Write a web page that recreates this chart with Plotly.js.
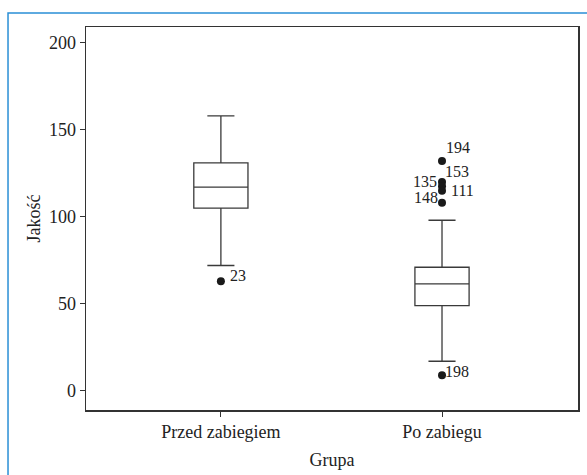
<!DOCTYPE html>
<html>
<head>
<meta charset="utf-8">
<script src="https://cdn.plot.ly/plotly-3.0.1.min.js"></script>
<style>html,body{margin:0;padding:0;background:#fff;}#chart{width:587px;height:475px;}</style>
</head>
<body>
<div id="chart"></div>
<script>
// Data
const groups = ["Przed zabiegiem", "Po zabiegu"];
const lowerFence = [72, 17];
const q1 = [105, 49];
const median = [117, 61.5];
const q3 = [131, 71];
const upperFence = [158, 98];

const outlierGroup = ["Przed zabiegiem", "Po zabiegu", "Po zabiegu", "Po zabiegu", "Po zabiegu", "Po zabiegu", "Po zabiegu"];
const outlierValue = [63, 9, 132, 120, 117.5, 115, 108];
const outlierLabel = ["23", "198", "194", "153", "135", "111", "148"];

// label offsets in pixels (layout only)
const labelDx = [17, 15, 16, 15, -17, 20, -16];
const labelDy = [6, 4, 14, 10, 5, 0, 5];

const fontFam = "Liberation Serif, Times New Roman, serif";

const traces = [
  {
    type: "box",
    x: groups,
    q1: q1,
    median: median,
    q3: q3,
    lowerfence: lowerFence,
    upperfence: upperFence,
    boxpoints: false,
    width: 0.245,
    whiskerwidth: 0.5,
    fillcolor: "#ffffff",
    line: {color: "#3a3a3a", width: 1.3},
    hoverinfo: "skip",
    showlegend: false
  },
  {
    type: "scatter",
    mode: "markers",
    x: outlierGroup,
    y: outlierValue,
    marker: {color: "#1a1a1a", size: 8},
    cliponaxis: false,
    showlegend: false,
    hoverinfo: "skip"
  }
];

const annotations = outlierLabel.map((t, i) => ({
  x: groups.indexOf(outlierGroup[i]),
  y: outlierValue[i],
  xref: "x", yref: "y",
  text: t,
  showarrow: false,
  xshift: labelDx[i],
  yshift: labelDy[i],
  font: {family: fontFam, size: 16, color: "#222"}
}));

const layout = {
  width: 587,
  height: 475,
  margin: {l: 86, r: 9, t: 27, b: 65},
  paper_bgcolor: "#ffffff",
  plot_bgcolor: "#ffffff",
  font: {family: fontFam, size: 18, color: "#222"},
  showlegend: false,
  xaxis: {
    type: "category",
    range: [-0.61, 1.615],
    showgrid: false,
    zeroline: false,
    showline: true,
    mirror: true,
    linecolor: "#333",
    linewidth: 1.5,
    ticks: "outside",
    ticklen: 5,
    tickcolor: "#333",
    tickfont: {family: fontFam, size: 18, color: "#222"},
    title: {text: "Grupa", font: {family: fontFam, size: 18, color: "#222"}, standoff: 12}
  },
  yaxis: {
    range: [-11, 209],
    tickvals: [0, 50, 100, 150, 200],
    showgrid: false,
    zeroline: false,
    showline: true,
    mirror: true,
    linecolor: "#333",
    linewidth: 1.5,
    ticks: "outside",
    ticklen: 5,
    tickcolor: "#333",
    tickfont: {family: fontFam, size: 18, color: "#222"},
    title: {text: "Jakość", font: {family: fontFam, size: 18, color: "#222"}, standoff: 3}
  },
  annotations: annotations,
  shapes: [
    {
      type: "rect", xref: "paper", yref: "paper",
      x0: -0.1585, x1: 1.05, y0: -0.21, y1: 1.0366,
      line: {color: "#2a8fd6", width: 1.5},
      fillcolor: "rgba(0,0,0,0)",
      layer: "below"
    }
  ]
};

Plotly.newPlot("chart", traces, layout, {displayModeBar: false, staticPlot: true});
</script>
</body>
</html>
